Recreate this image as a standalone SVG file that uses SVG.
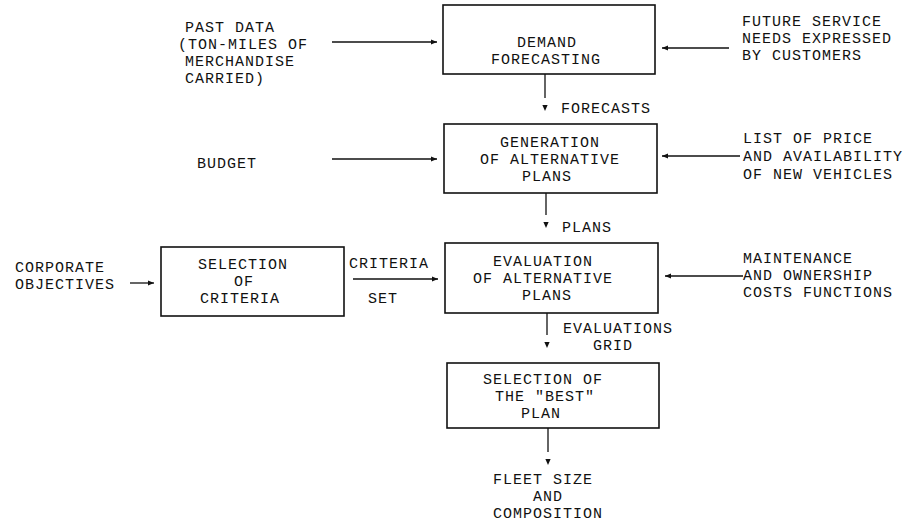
<svg xmlns="http://www.w3.org/2000/svg" width="906" height="525" viewBox="0 0 906 525">
<style>
text{font-family:"Liberation Mono","Courier New",monospace;font-size:15px;letter-spacing:1px;fill:#111}
.c{text-anchor:middle}
.box{fill:none;stroke:#111;stroke-width:1.6}
.ln{fill:none;stroke:#111;stroke-width:1.3}
</style>
<defs>
<marker id="ah" markerUnits="userSpaceOnUse" viewBox="0 -3 6 6" refX="6" refY="0" markerWidth="6" markerHeight="6" orient="auto">
<path d="M0,-2.6 L6,0 L0,2.6 z" fill="#111"/>
</marker>
<marker id="ahg" markerUnits="userSpaceOnUse" viewBox="0 -3 13 6" refX="0" refY="0" markerWidth="13" markerHeight="6" orient="auto">
<path d="M7,-2.6 L13,0 L7,2.6 z" fill="#111"/>
</marker>
</defs>
<rect width="906" height="525" fill="#fff"/>

<g id="connectors">
<line class="ln" x1="332" y1="42" x2="437" y2="42" marker-end="url(#ah)"/>
<line class="ln" x1="729" y1="48" x2="662" y2="48" marker-end="url(#ah)"/>
<line class="ln" x1="545" y1="74" x2="545" y2="98" marker-end="url(#ahg)"/>
<line class="ln" x1="332" y1="159" x2="437" y2="159" marker-end="url(#ah)"/>
<line class="ln" x1="740" y1="156" x2="662" y2="156" marker-end="url(#ah)"/>
<line class="ln" x1="546" y1="193" x2="546" y2="215" marker-end="url(#ahg)"/>
<line class="ln" x1="130" y1="283" x2="154" y2="283" marker-end="url(#ah)"/>
<line class="ln" x1="353" y1="279" x2="438" y2="279" marker-end="url(#ah)"/>
<line class="ln" x1="743" y1="276" x2="665" y2="276" marker-end="url(#ah)"/>
<line class="ln" x1="547" y1="313" x2="547" y2="335" marker-end="url(#ahg)"/>
<line class="ln" x1="548" y1="428" x2="548" y2="452" marker-end="url(#ahg)"/>
<text x="561" y="113">FORECASTS</text>
<text x="562" y="232">PLANS</text>
<text x="349" y="268">CRITERIA</text>
<text x="368" y="303">SET</text>
<text x="563" y="333">EVALUATIONS</text>
<text x="593" y="350">GRID</text>
</g>

<g id="past-data">
<text x="185" y="32">PAST DATA</text>
<text x="178" y="49">(TON-MILES OF</text>
<text x="185" y="66">MERCHANDISE</text>
<text x="185" y="83">CARRIED)</text>
</g>

<g id="future-service">
<text x="742" y="26">FUTURE SERVICE</text>
<text x="742" y="43">NEEDS EXPRESSED</text>
<text x="742" y="60">BY CUSTOMERS</text>
</g>

<g id="demand-forecasting">
<rect class="box" x="443" y="5" width="212" height="69"/>
<text class="c" x="547" y="47">DEMAND</text>
<text class="c" x="546" y="64">FORECASTING</text>
</g>

<g id="budget">
<text x="197" y="168">BUDGET</text>
</g>

<g id="list-of-price">
<text x="743" y="143">LIST OF PRICE</text>
<text x="743" y="161">AND AVAILABILITY</text>
<text x="743" y="179">OF NEW VEHICLES</text>
</g>

<g id="generation">
<rect class="box" x="444" y="124" width="213" height="69"/>
<text class="c" x="550" y="147">GENERATION</text>
<text class="c" x="550" y="164">OF ALTERNATIVE</text>
<text class="c" x="547" y="181">PLANS</text>
</g>

<g id="corporate-objectives">
<text x="15" y="272">CORPORATE</text>
<text x="15" y="289">OBJECTIVES</text>
</g>

<g id="selection-of-criteria">
<rect class="box" x="161" y="247" width="183" height="69"/>
<text class="c" x="243" y="269">SELECTION</text>
<text class="c" x="244" y="286">OF</text>
<text class="c" x="240" y="303">CRITERIA</text>
</g>

<g id="evaluation">
<rect class="box" x="445" y="243" width="213" height="70"/>
<text class="c" x="543" y="266">EVALUATION</text>
<text class="c" x="543" y="283">OF ALTERNATIVE</text>
<text class="c" x="547" y="300">PLANS</text>
</g>

<g id="maintenance">
<text x="743" y="263">MAINTENANCE</text>
<text x="743" y="280">AND OWNERSHIP</text>
<text x="743" y="297">COSTS FUNCTIONS</text>
</g>

<g id="selection-best">
<rect class="box" x="447" y="363" width="212" height="65"/>
<text class="c" x="543" y="384">SELECTION OF</text>
<text class="c" x="545" y="401">THE "BEST"</text>
<text class="c" x="541" y="418">PLAN</text>
</g>

<g id="fleet-size">
<text x="493" y="484">FLEET SIZE</text>
<text x="533" y="501">AND</text>
<text x="493" y="518">COMPOSITION</text>
</g>
</svg>
